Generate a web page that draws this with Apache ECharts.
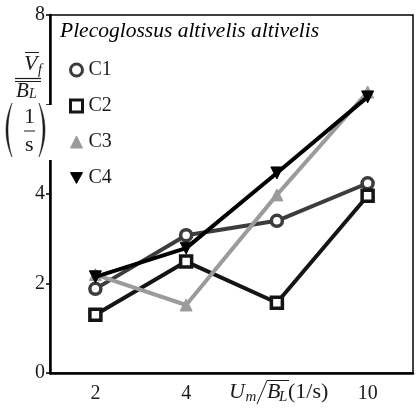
<!DOCTYPE html>
<html><head><meta charset="utf-8">
<script src="https://cdn.jsdelivr.net/npm/echarts@6/dist/echarts.min.js"></script>
<style>html,body{margin:0;padding:0;background:#fff}#c{width:417px;height:410px}</style>
</head><body><div id="c"></div>
<script>
const categories = ['2', '4', '6', '10'];
const seriesNames = ['C1', 'C2', 'C3', 'C4'];
const c1 = [1.88, 3.08, 3.40, 4.24];
const c2 = [1.30, 2.49, 1.57, 3.96];
const c3 = [2.20, 1.52, 3.98, 6.28];
const c4 = [2.15, 2.79, 4.47, 6.17];
const yMin = 0, yMax = 8, yStep = 2;
const titleText = 'Plecoglossus altivelis altivelis';

const FONT = 'Liberation Serif';
const TXT = '#1a1a1a';
const colors = ['#3c3c3c', '#151515', '#9b9b9b', '#000000'];
const symbols = ['circle', 'rect', 'triangle', 'path://M0,0 L10,0 L5,9 Z'];
const sizes = [11, 11, 12, 12];
const datas = [c1, c2, c3, c4];

const chart = echarts.init(document.getElementById('c'), null, {renderer: 'canvas'});
const series = datas.map((d, i) => ({
  name: seriesNames[i], type: 'line', data: d,
  symbol: symbols[i], symbolSize: sizes[i],
  lineStyle: {color: colors[i], width: 4},
  itemStyle: {color: i >= 2 ? colors[i] : '#fff', borderColor: colors[i], borderWidth: i >= 2 ? 1 : 3.5},
  z: 2 + (i === 3 ? 3 : i)
}));

const t = (x, y, text, size, italic) => ({
  type: 'text', x: x, y: y, z: 21,
  style: {text: text, fontFamily: FONT, fontStyle: italic ? 'italic' : 'normal', fontSize: size, fill: TXT, verticalAlign: 'middle'}
});
const ln = (x1, y1, x2, y2, w) => ({type: 'line', z: 21, shape: {x1: x1, y1: y1, x2: x2, y2: y2}, style: {stroke: TXT, lineWidth: w || 1}});
// crescent-shaped parenthesis glyph: ends at xe, outer bulge control xo, inner control xi
function paren(xe, xo, xi, y0, y1) {
  const pts = [];
  const q = (a, c, b, s) => (1 - s) * (1 - s) * a + 2 * (1 - s) * s * c + s * s * b;
  const n = 24;
  for (let k = 0; k <= n; k++) { const s = k / n; pts.push([q(xe, xo, xe, s), q(y0, (y0 + y1) / 2, y1, s)]); }
  for (let k = n; k >= 0; k--) { const s = k / n; pts.push([q(xe, xi, xe, s), q(y0, (y0 + y1) / 2, y1, s)]); }
  return {type: 'polygon', z: 21, shape: {points: pts}, style: {fill: TXT, stroke: TXT, lineWidth: 0.5}};
}

chart.setOption({
  animation: false,
  grid: {left: 50, right: 4, top: 15, bottom: 37, show: true, borderColor: '#000', borderWidth: 1.5},
  legend: {
    orient: 'vertical', left: 64, top: 55, itemGap: 16,
    itemWidth: 12, itemHeight: 12,
    textStyle: {fontFamily: FONT, fontSize: 20, color: TXT, padding: [0, 0, 0, 1]},
    data: seriesNames.map((n, i) => ({
      name: n, icon: symbols[i],
      itemStyle: {color: i >= 2 ? colors[i] : '#fff', borderColor: colors[i], borderWidth: i >= 2 ? 1 : 3}
    }))
  },
  xAxis: {
    type: 'category', data: categories, boundaryGap: true,
    axisLine: {lineStyle: {color: '#000', width: 2.5}},
    axisTick: {alignWithLabel: true, length: 6, lineStyle: {color: '#000', width: 1.5}},
    axisLabel: {
      interval: 0, margin: 11, color: TXT, fontFamily: FONT, fontSize: 20,
      formatter: (v, idx) => idx === 2 ? '' : v
    },
    splitLine: {show: false}
  },
  yAxis: {
    type: 'value', min: yMin, max: yMax, interval: yStep,
    axisLine: {show: true, lineStyle: {color: '#000', width: 2.5}},
    axisTick: {show: true, length: 4, lineStyle: {color: '#000', width: 1.5}},
    axisLabel: {margin: 5, color: TXT, fontFamily: FONT, fontSize: 20, formatter: v => v === 6 ? '' : String(v)},
    splitLine: {show: false}
  },
  series: series,
  graphic: [
    {type: 'text', left: 60, top: 20, z: 10,
     style: {text: titleText, fontFamily: FONT, fontStyle: 'italic', fontSize: 21.5, fill: '#000'}},
    {type: 'rect', shape: {x: 0, y: 105, width: 54, height: 55}, style: {fill: '#fff'}, z: 20},
    // y-axis name
    t(24, 64, 'V', 22, true),
    t(38, 70, 'f', 14, true),
    ln(25, 52.5, 39, 52.5),
    ln(15, 78.5, 41, 78.5, 1.2),
    ln(15, 81.5, 41, 81.5, 1),
    t(16, 91, 'B', 21, true),
    t(29, 94, 'L', 14, true),
    paren(12, 0, 4, 103, 157),
    paren(39, 51, 47, 103, 157),
    t(24, 117, '1', 22, false),
    ln(24, 131, 35, 131),
    t(25, 145, 's', 22, false),
    // x-axis name at third tick
    t(229, 392, 'U', 22, true),
    t(245.5, 397, 'm', 15, true),
    {type: 'polyline', shape: {points: [[257, 404], [267, 380.5], [289, 380.5]]}, style: {stroke: TXT, lineWidth: 1, fill: null}, z: 21},
    t(267, 392, 'B', 22, true),
    t(279, 397, 'L', 15, true),
    t(288, 392, '(1/s)', 22, false)
  ]
});
</script></body></html>
